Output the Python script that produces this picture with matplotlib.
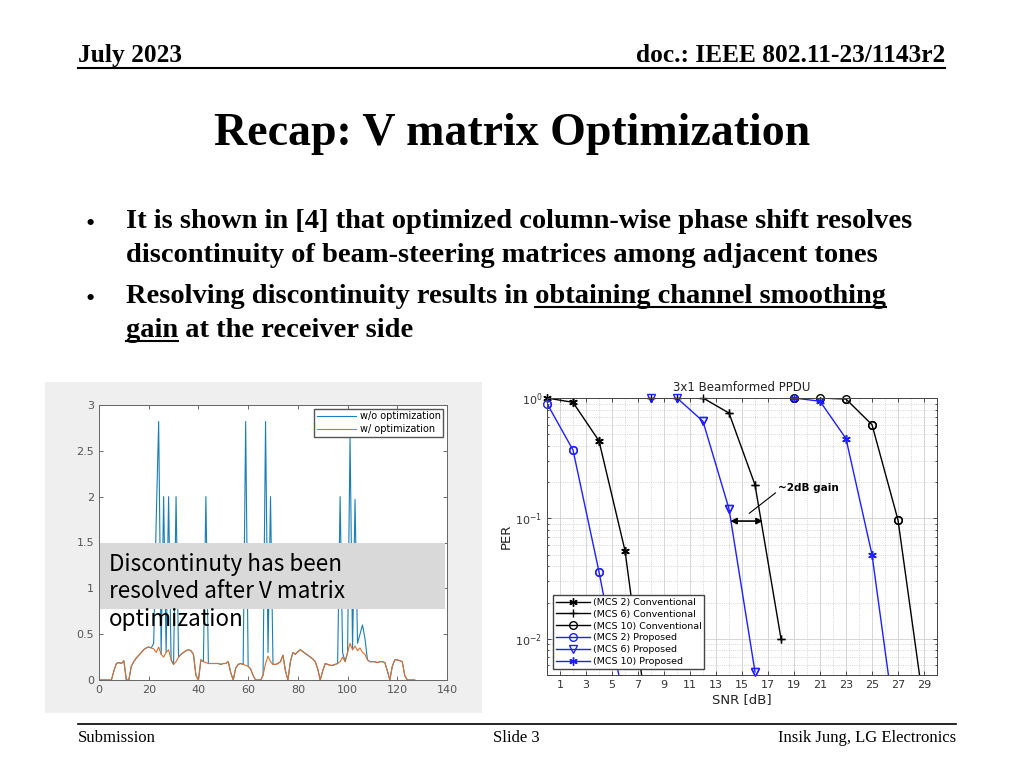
import numpy as np
import matplotlib.pyplot as plt
from matplotlib.patches import Rectangle
from matplotlib.lines import Line2D

# ---- left chart: per-tone discontinuity metric ----
with_opt = [0, 0, 0, 0, 0, 0, 0.1, 0.18, 0.19, 0.18,
            0.21, 0.0, 0.0, 0.15, 0.2, 0.24, 0.27, 0.3, 0.33, 0.35,
            0.36, 0.35, 0.34, 0.3, 0.36, 0.28, 0.25, 0.3, 0.33, 0.22,
            0.17, 0.2, 0.25, 0.28, 0.3, 0.32, 0.33, 0.32, 0.28, 0.05,
            0.0, 0.22, 0.2, 0.19, 0.18, 0.18, 0.18, 0.18, 0.18, 0.17,
            0.18, 0.18, 0.2, 0.08, 0.0, 0.13, 0.17, 0.18, 0.17, 0.16,
            0.15, 0.12, 0.05, 0.0, 0.0, 0.0, 0.05, 0.18, 0.26, 0.2,
            0.17, 0.17, 0.18, 0.2, 0.27, 0.1, 0.0, 0.2, 0.3, 0.28,
            0.31, 0.33, 0.31, 0.29, 0.27, 0.25, 0.23, 0.2, 0.12, 0.0,
            0.1, 0.18, 0.17, 0.16, 0.16, 0.17, 0.18, 0.2, 0.25, 0.2,
            0.3, 0.4, 0.33, 0.37, 0.32, 0.35, 0.3, 0.28, 0.22, 0.2,
            0.2, 0.2, 0.19, 0.2, 0.2, 0.19, 0.1, 0.0, 0.15, 0.22,
            0.22, 0.21, 0.2, 0.05, 0.0, 0.0, 0.0, 0.0]
spike_tone = [22, 23, 24, 26, 28, 31, 43, 59, 67, 68, 69, 97, 98, 101, 103, 104, 105, 106, 107]
spike_val = [0.4, 1.73, 2.82, 2.0, 2.0, 2.0, 2.0, 2.82, 2.82, 0.3, 2.0, 2.0, 0.3, 2.65, 1.97, 0.4, 0.5, 0.6, 0.45]

# ---- right chart: PER vs SNR ----
snr_mcs2 = [0, 2, 4, 6, 8]
per_mcs2_conv = [1.0, 0.92, 0.44, 0.054, 0.0013]
snr_mcs2_p = [0, 2, 4, 6]
per_mcs2_prop = [0.9, 0.37, 0.036, 0.0027]
snr_mcs6 = [8, 10, 12, 14, 16, 18]
per_mcs6_conv = [1.0, 1.0, 1.0, 0.75, 0.19, 0.01]
snr_mcs6_p = [8, 10, 12, 14, 16]
per_mcs6_prop = [1.0, 1.0, 0.64, 0.12, 0.0053]
snr_mcs10 = [19, 21, 23, 25, 27, 29]
per_mcs10_conv = [1.0, 1.0, 0.98, 0.6, 0.097, 0.0027]
snr_mcs10_p = [19, 21, 23, 25, 27]
per_mcs10_prop = [1.0, 0.94, 0.46, 0.05, 0.0013]

W, H = 1024, 768
def fx(x): return x / W
def fy(y): return 1 - y / H

serif = 'Liberation Serif'
fig = plt.figure(figsize=(10.24, 7.68), dpi=100)
renderer = fig.canvas.get_renderer()

def text_width(s, **kw):
    t = fig.text(0, 0, s, **kw)
    w = t.get_window_extent(renderer=renderer).width
    t.remove()
    return w

# header
fig.text(fx(78), fy(62), 'July 2023', family=serif, weight='bold', fontsize=18.3, va='baseline')
fig.text(fx(945), fy(62), 'doc.: IEEE 802.11-23/1143r2', family=serif, weight='bold', fontsize=18.3,
         va='baseline', ha='right')
fig.add_artist(Line2D([fx(78), fx(945)], [fy(68), fy(68)], color='black', lw=1.5))

# title
fig.text(0.5, fy(145), 'Recap: V matrix Optimization', family=serif, weight='bold', fontsize=33,
         ha='center', va='baseline')

# bullets
bkw = dict(family=serif, weight='bold', fontsize=20.5, va='baseline')
lines = [(228, 'It is shown in [4] that optimized column-wise phase shift resolves', True),
         (262, 'discontinuity of beam-steering matrices among adjacent tones', False),
         (303, 'Resolving discontinuity results in obtaining channel smoothing', True),
         (337, 'gain at the receiver side', False)]
for yb, s, bullet in lines:
    if bullet:
        fig.text(fx(90), fy(yb - 3), '\u2022', family=serif, fontsize=19, ha='center', va='center')
    fig.text(fx(126), fy(yb), s, **bkw)

# underlines
full = 'Resolving discontinuity results in obtaining channel smoothing'
x_end = 126 + text_width(full, **bkw)
x_start = x_end - text_width('obtaining channel smoothing', **bkw)
fig.add_artist(Line2D([fx(x_start), fx(x_end)], [fy(307), fy(307)], color='black', lw=1.5))
fig.add_artist(Line2D([fx(126), fx(126 + text_width('gain', **bkw))], [fy(341), fy(341)],
                      color='black', lw=1.5))

# footer
fig.add_artist(Line2D([fx(78), fx(956)], [fy(724), fy(724)], color='black', lw=1.2))
fkw = dict(family=serif, fontsize=12, va='baseline')
fig.text(fx(78), fy(742), 'Submission', **fkw)
fig.text(fx(516), fy(742), 'Slide 3', ha='center', **fkw)
fig.text(fx(956), fy(742), 'Insik Jung, LG Electronics', ha='right', **fkw)

# ---- left chart ----
fig.add_artist(Rectangle((fx(45), fy(713)), (482 - 45) / W, (713 - 382) / H, transform=fig.transFigure,
                         facecolor='#efefef', edgecolor='none', zorder=-1))
ax1 = fig.add_axes([fx(99), fy(680), (447 - 99) / W, (680 - 405) / H])
tones = np.arange(len(with_opt))
without_opt = np.array(with_opt, dtype=float)
without_opt[spike_tone] = spike_val
ax1.plot(tones, without_opt, color='#1a7fb5', lw=0.8, label='w/o optimization')
ax1.plot(tones, with_opt, color='#d9702f', lw=0.8, label='w/ optimization')
ax1.set_xlim(0, 140)
ax1.set_ylim(0, 3)
ax1.set_xticks(range(0, 141, 20))
ax1.set_yticks([0, 0.5, 1, 1.5, 2, 2.5, 3])
ax1.set_yticklabels(['0', '0.5', '1', '1.5', '2', '2.5', '3'])
ax1.tick_params(direction='in', top=True, right=True, labelsize=8, colors='#555555', length=3, width=0.6)
for sp in ax1.spines.values():
    sp.set_color('#666666')
    sp.set_linewidth(0.7)
ax1.legend(loc='upper right', fontsize=7, frameon=True, fancybox=False, edgecolor='#555555',
           framealpha=1, borderpad=0.25, labelspacing=0.3, handlelength=4.0, handletextpad=0.4,
           borderaxespad=0.4)

# overlay note box on top of the chart
fig.add_artist(Rectangle((fx(100), fy(609)), (445 - 100) / W, (609 - 543) / H, transform=fig.transFigure,
                         facecolor='#d9d9d9', edgecolor='none', zorder=1))
nkw = dict(family=['Noto Sans CJK KR', 'DejaVu Sans'], fontsize=16.2, va='baseline', zorder=3)
fig.text(fx(109), fy(571), 'Discontinuty has been', **nkw)
fig.text(fx(109), fy(598), 'resolved after V matrix', **nkw)
fig.text(fx(109), fy(626), 'optimization', **nkw)

# ---- right chart ----
ax2 = fig.add_axes([fx(547), fy(675), (937 - 547) / W, (675 - 398) / H])
blue = '#1f1fff'
star = (6, 2, 0)
series = [(snr_mcs2, per_mcs2_conv, 'black', star, 6, '(MCS 2) Conventional'),
          (snr_mcs6, per_mcs6_conv, 'black', '+', 6, '(MCS 6) Conventional'),
          (snr_mcs10, per_mcs10_conv, 'black', 'o', 5.5, '(MCS 10) Conventional'),
          (snr_mcs2_p, per_mcs2_prop, blue, 'o', 5.5, '(MCS 2) Proposed'),
          (snr_mcs6_p, per_mcs6_prop, blue, 'v', 5.5, '(MCS 6) Proposed'),
          (snr_mcs10_p, per_mcs10_prop, blue, star, 6, '(MCS 10) Proposed')]
for xs, ys, c, m, ms, lab in series:
    ax2.plot(xs, ys, color=c, lw=1, marker=m, ms=ms, mfc='none', label=lab)
    xs_v = [x for x, y in zip(xs, ys) if y >= 0.005]
    ys_v = [y for y in ys if y >= 0.005]
    ax2.plot(xs_v, ys_v, ls='none', color=c, marker=m, ms=ms, mfc='none', clip_on=False)
ax2.set_yscale('log')
ax2.set_xlim(0, 30)
ax2.set_ylim(0.005, 1)
ax2.set_xticks(range(1, 30, 2))
ax2.set_xticks(range(0, 31), minor=True)
ax2.grid(True, which='major', color='#d0d0d0', lw=0.6, ls='-')
ax2.grid(True, which='minor', color='#c8c8c8', lw=0.6, ls=':')
ax2.tick_params(which='both', direction='in', top=True, right=True, labelsize=8, colors='#333333',
                width=0.6)
ax2.tick_params(which='major', length=3)
ax2.tick_params(which='minor', length=1.5)
ax2.tick_params(axis='x', which='minor', length=0)
for sp in ax2.spines.values():
    sp.set_color('#444444')
    sp.set_linewidth(0.7)
ax2.set_title('3x1 Beamformed PPDU', fontsize=8.5, color='#222222', pad=5)
ax2.set_xlabel('SNR [dB]', fontsize=9.5, color='#222222', labelpad=2)
ax2.set_ylabel('PER', fontsize=9.5, color='#222222', labelpad=2)
ax2.legend(loc='lower left', fontsize=6.8, fancybox=False, edgecolor='#444444', framealpha=1,
           borderpad=0.3, labelspacing=0.3, handlelength=3.6, handletextpad=0.3,
           bbox_to_anchor=(0.015, 0.022), borderaxespad=0)
ax2.annotate('~2dB gain', xy=(15.55, 0.11), xytext=(17.8, 0.18), fontsize=7.5, weight='bold',
             va='center', ha='left',
             arrowprops=dict(arrowstyle='-', color='black', lw=0.8, relpos=(0.0, 0.2),
                             shrinkA=0, shrinkB=0))
ax2.annotate('', xy=(14.1, 0.095), xytext=(16.6, 0.095),
             arrowprops=dict(arrowstyle='<|-|>', color='black', lw=1.2, mutation_scale=9,
                             shrinkA=0, shrinkB=0))

fig.savefig('out.png', dpi=100)
